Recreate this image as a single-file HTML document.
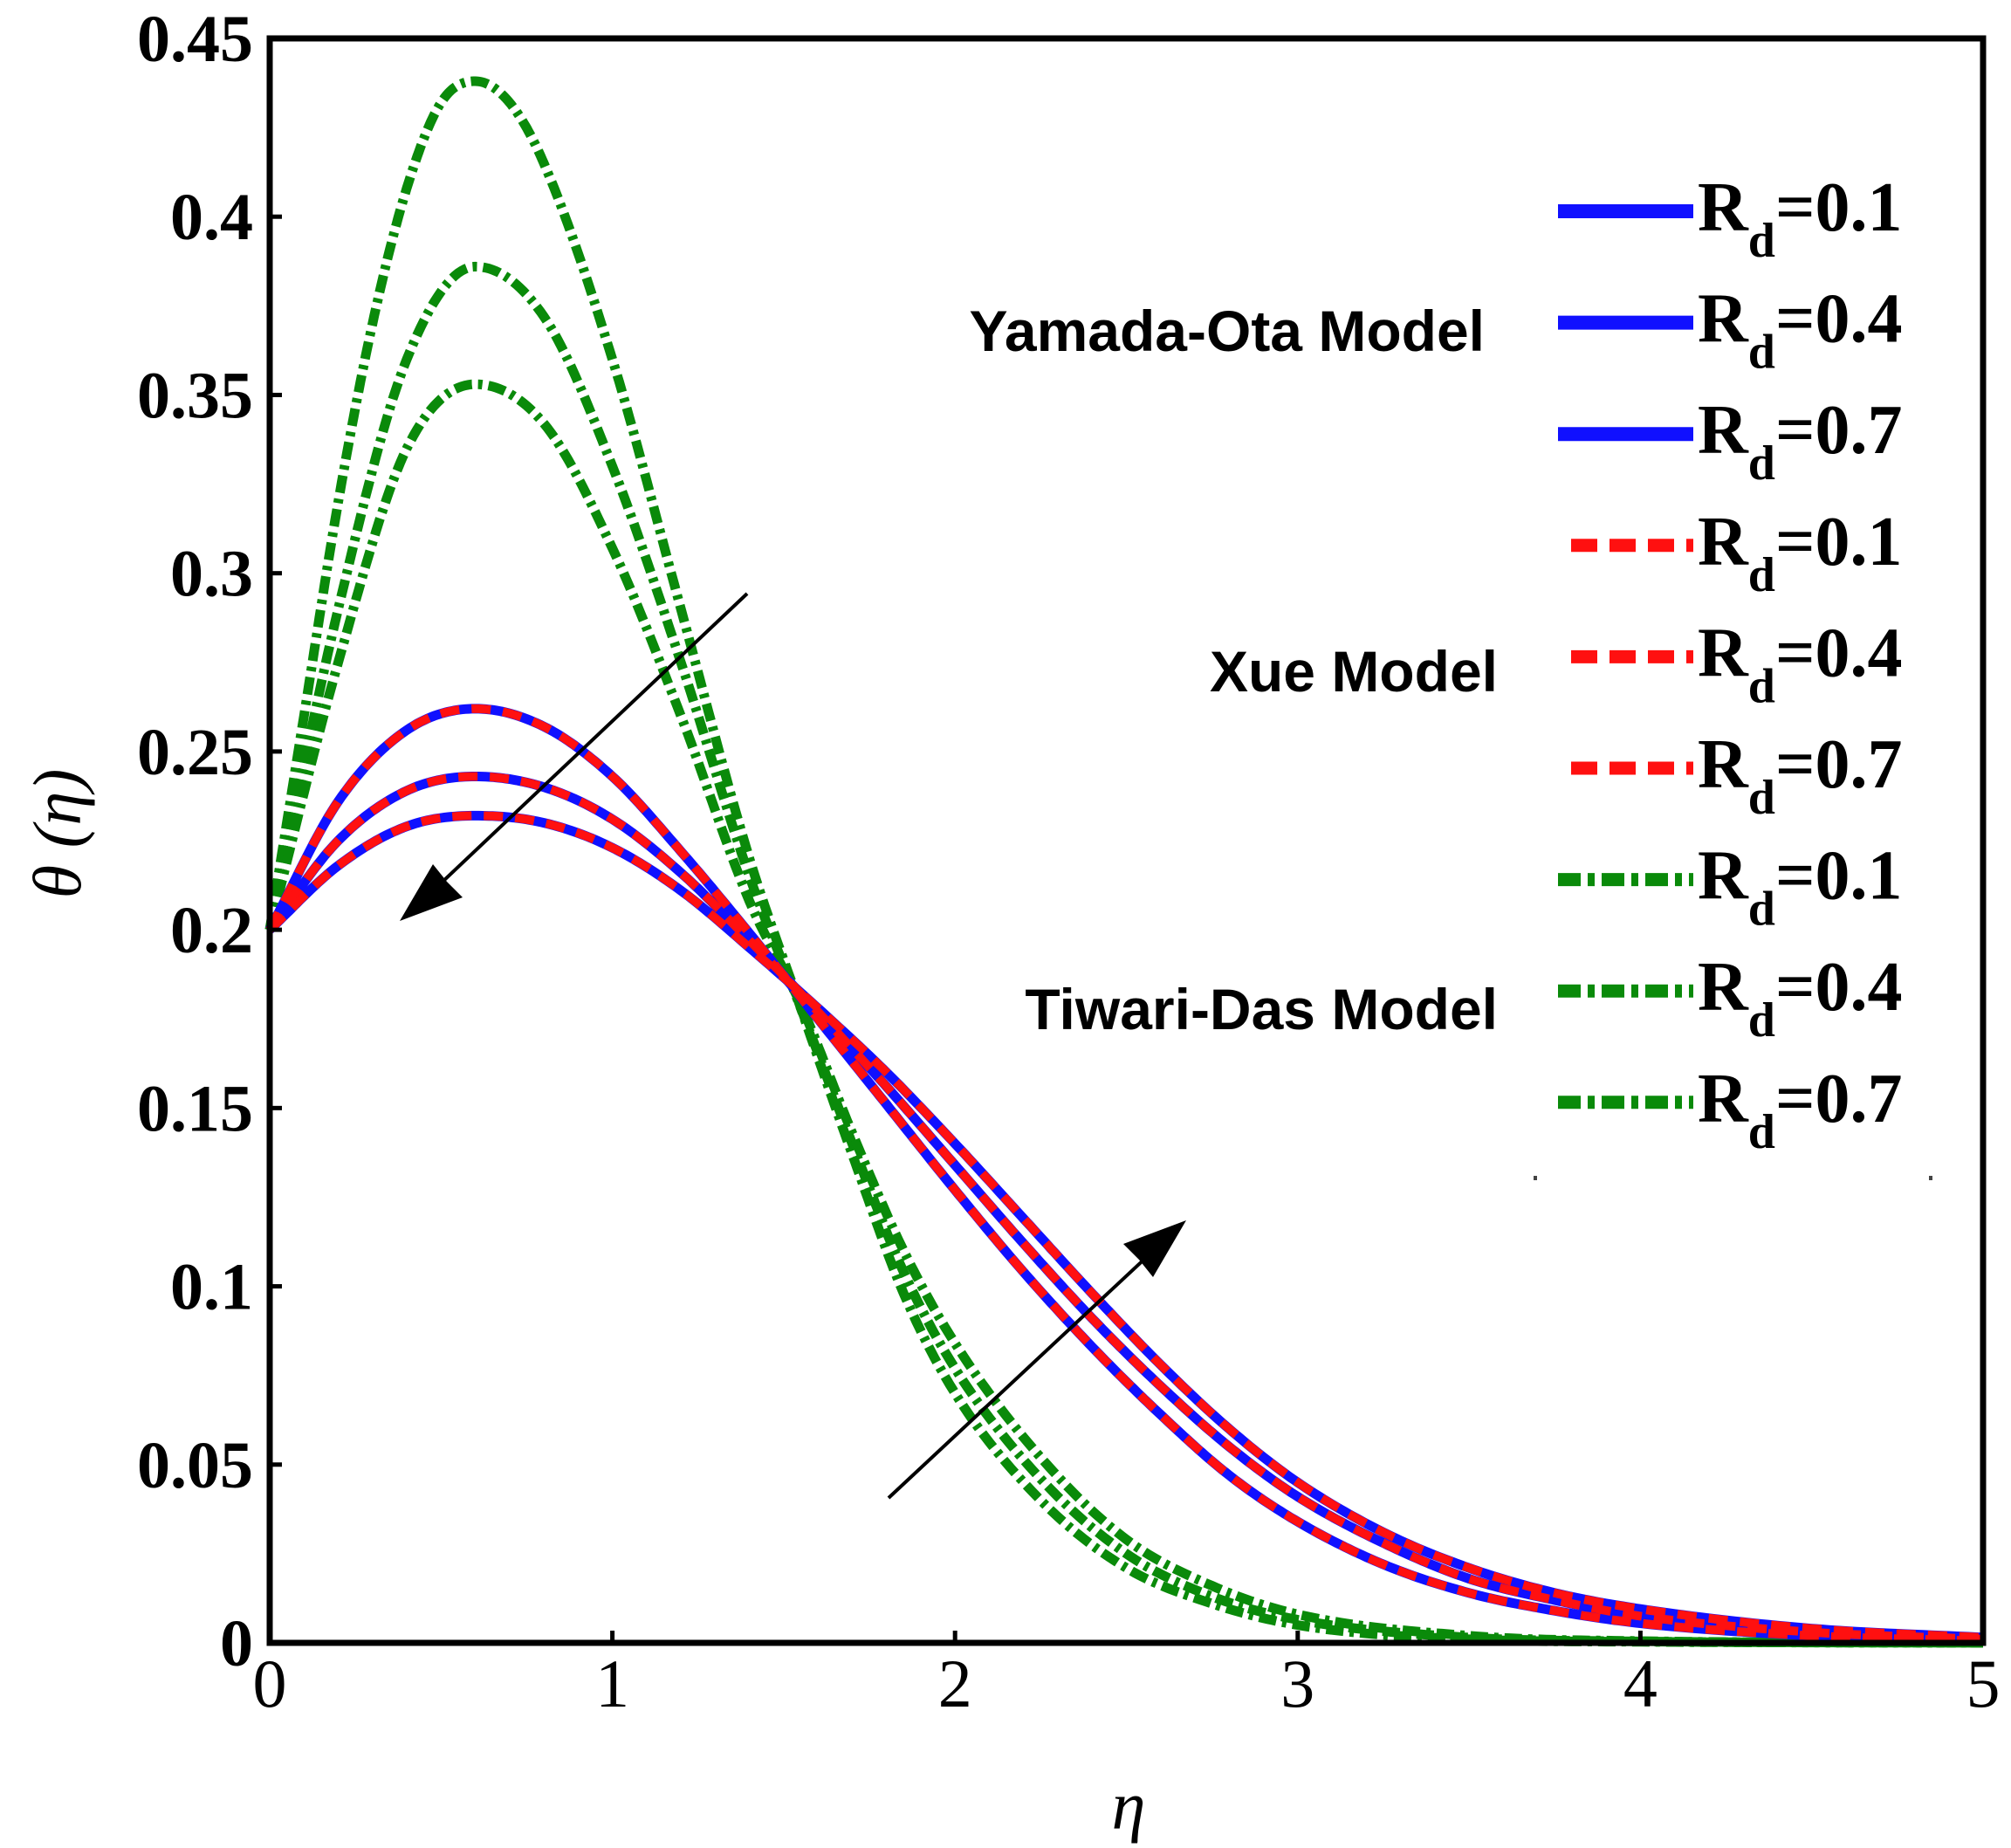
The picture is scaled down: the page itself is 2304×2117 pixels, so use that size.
<!DOCTYPE html>
<html><head><meta charset="utf-8"><style>
html,body{margin:0;padding:0;background:#fff;}
svg{display:block;}
.tk{font-family:"Liberation Serif",serif;font-weight:bold;font-size:76px;fill:#000;}
.xk{font-family:"Liberation Serif",serif;font-size:78px;fill:#000;}
.lg{font-family:"Liberation Serif",serif;font-weight:bold;font-size:80px;fill:#000;}
.md{font-family:"Liberation Sans",sans-serif;font-weight:bold;font-size:66px;fill:#000;}
</style></head><body>
<svg id="s" width="2304" height="2117" viewBox="0 0 2304 2117" xmlns="http://www.w3.org/2000/svg">
<rect width="2304" height="2117" fill="#fff"/>
<g id="curves"></g>
<rect x="309" y="44" width="1963" height="1838" fill="none" stroke="#000" stroke-width="7"/>
<g id="ticks"></g>
<text x="1293" y="2095" class="xk" font-style="italic" font-size="90" text-anchor="middle">η</text>
<text transform="translate(92,955) rotate(-90)" class="xk" font-style="italic" font-size="84" text-anchor="middle">θ (η)</text>
<g id="legend"></g>
<text x="1701" y="402" class="md" text-anchor="end">Yamada-Ota Model</text>
<text x="1716" y="792" class="md" text-anchor="end">Xue Model</text>
<text x="1716" y="1179" class="md" text-anchor="end">Tiwari-Das Model</text>
<rect x="1757" y="1347" width="4" height="5" fill="#444"/>
<rect x="2210" y="1347" width="4" height="5" fill="#444"/>
<line x1="856" y1="680" x2="470" y2="1045" stroke="#000" stroke-width="4"/>
<path d="M458,1055 L530,1028 L512,1010 L496,990z" fill="#000"/>
<line x1="1018" y1="1716" x2="1348" y2="1408" stroke="#000" stroke-width="4"/>
<path d="M1359,1398 L1287,1425 L1305,1443 L1321,1463z" fill="#000"/>
</svg>
<script>
var L=309,R=2272,T=44,B=1882;
function X(v){return L+v/5*(R-L);}
function Y(v){return B-v/0.45*(B-T);}
function mono(pts){
 var n=pts.length,xs=pts.map(p=>p[0]),ys=pts.map(p=>p[1]),d=[],m=[];
 for(var i=0;i<n-1;i++)d.push((ys[i+1]-ys[i])/(xs[i+1]-xs[i]));
 m[0]=d[0];m[n-1]=d[n-2];
 for(i=1;i<n-1;i++){m[i]=(d[i-1]*d[i]<=0)?0:(d[i-1]+d[i])/2;}
 for(i=0;i<n-1;i++){if(d[i]==0){m[i]=m[i+1]=0;continue;}var a=m[i]/d[i],b=m[i+1]/d[i],s=a*a+b*b;if(s>9){var t=3/Math.sqrt(s);m[i]=t*a*d[i];m[i+1]=t*b*d[i];}}
 var out=[];
 for(i=0;i<n-1;i++){var h=xs[i+1]-xs[i];for(var k=0;k<20;k++){var t=k/20,t2=t*t,t3=t2*t;
  var y=(2*t3-3*t2+1)*ys[i]+(t3-2*t2+t)*h*m[i]+(-2*t3+3*t2)*ys[i+1]+(t3-t2)*h*m[i+1];
  out.push([xs[i]+t*h,y]);}}
 out.push([xs[n-1],ys[n-1]]);
 return out.map((p,j)=>(j?'L':'M')+X(p[0]).toFixed(1)+','+Y(p[1]).toFixed(1)).join(' ');
}
var A=[[0,.2],[.2,.236],[.4,.256],[.6,.262],[.8,.257],[1,.243],[1.2,.222],[1.4,.199],[1.6,.175],[1.8,.151],[2,.127],[2.2,.104],[2.4,.083],[2.6,.064],[2.8,.047],[3,.034],[3.25,.022],[3.5,.014],[3.75,.009],[4,.0055],[4.5,.002],[5,.0005]];
var Bc=[[0,.2],[.2,.225],[.4,.239],[.6,.243],[.8,.24],[1,.231],[1.2,.216],[1.4,.197],[1.6,.177],[1.8,.156],[2,.134],[2.2,.112],[2.4,.091],[2.6,.072],[2.8,.055],[3,.041],[3.25,.028],[3.5,.018],[3.75,.012],[4,.0075],[4.5,.003],[5,.001]];
var C=[[0,.2],[.2,.218],[.4,.229],[.6,.232],[.8,.23],[1,.223],[1.2,.211],[1.4,.195],[1.6,.178],[1.8,.16],[2,.14],[2.2,.119],[2.4,.098],[2.6,.078],[2.8,.06],[3,.045],[3.25,.031],[3.5,.021],[3.75,.014],[4,.0095],[4.5,.004],[5,.0015]];
var G1=[[0,.2],[.1,.26],[.2,.32],[.3,.37],[.4,.408],[.5,.432],[.6,.438],[.7,.432],[.8,.415],[1,.36],[1.2,.29],[1.4,.22],[1.55,.178],[1.7,.137],[1.85,.098],[2,.07],[2.25,.04],[2.5,.021],[2.75,.011],[3,.005],[3.5,.001],[4,.0003],[5,0]];
var G2=[[0,.2],[.2,.29],[.4,.36],[.6,.386],[.8,.372],[1,.33],[1.2,.275],[1.4,.215],[1.55,.178],[1.7,.14],[1.85,.104],[2,.077],[2.25,.046],[2.5,.025],[2.75,.013],[3,.0065],[3.5,.0015],[4,.0004],[5,0]];
var G3=[[0,.2],[.2,.275],[.4,.335],[.6,.353],[.8,.342],[1,.307],[1.2,.26],[1.4,.208],[1.55,.179],[1.7,.143],[1.85,.11],[2,.084],[2.25,.052],[2.5,.029],[2.75,.016],[3,.008],[3.5,.002],[4,.0005],[5,0]];
var h='';
[G1,G2,G3].forEach(g=>{h+='<path d="'+mono(g)+'" fill="none" stroke="#0a8a0a" stroke-width="11" stroke-dasharray="20 7 5 7"/>';});
[A,Bc,C].forEach(g=>{h+='<path d="'+mono(g)+'" fill="none" stroke="#1010ff" stroke-width="11"/>';});
[A,Bc,C].forEach(g=>{h+='<path d="'+mono(g)+'" fill="none" stroke="#ff1010" stroke-width="10" stroke-dasharray="22 14"/>';});
document.getElementById('curves').innerHTML=h;
var t='';
for(var i=0;i<=9;i++){var v=i*0.05,y=Y(v);
 t+='<line x1="'+L+'" x2="'+(L+14)+'" y1="'+y+'" y2="'+y+'" stroke="#000" stroke-width="5"/>';
 var lab=(i==0)?'0':(+v.toFixed(2)).toString();
 t+='<text x="290" y="'+(y+26)+'" class="tk" text-anchor="end">'+lab+'</text>';}
for(i=0;i<=5;i++){var x=X(i);
 t+='<line x1="'+x+'" x2="'+x+'" y1="'+B+'" y2="'+(B-14)+'" stroke="#000" stroke-width="5"/>';
 t+='<text x="'+x+'" y="1955" class="xk" text-anchor="middle">'+i+'</text>';}
document.getElementById('ticks').innerHTML=t;
var lg='',vals=['0.1','0.4','0.7'];
for(i=0;i<9;i++){var y=242+i*127.6,g=Math.floor(i/3);
 if(g==0)lg+='<line x1="1785" x2="1940" y1="'+y+'" y2="'+y+'" stroke="#1010ff" stroke-width="16"/>';
 if(g==1)lg+='<line x1="1800" x2="1940" y1="'+y+'" y2="'+y+'" stroke="#ff1010" stroke-width="15" stroke-dasharray="30 14"/>';
 if(g==2)lg+='<line x1="1785" x2="1940" y1="'+y+'" y2="'+y+'" stroke="#0a8a0a" stroke-width="15" stroke-dasharray="26 8 8 8"/>';
 lg+='<text x="1945" y="'+(y+22)+'" class="lg">R<tspan font-size="56" dy="30">d</tspan><tspan dy="-30">=0'+vals[i%3].slice(1)+'</tspan></text>';}
document.getElementById('legend').innerHTML=lg;
</script>
</body></html>
